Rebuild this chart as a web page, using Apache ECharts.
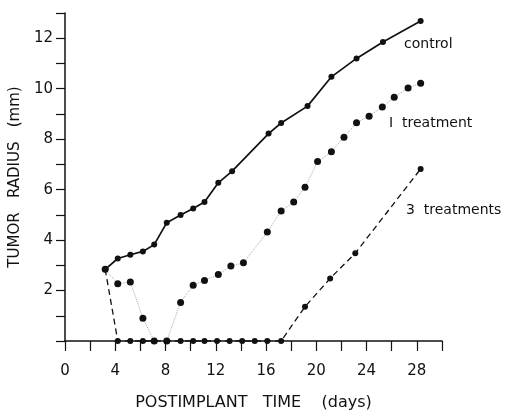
<!DOCTYPE html>
<html><head><meta charset="utf-8">
<script src="https://cdn.jsdelivr.net/npm/echarts@6/dist/echarts.min.js"></script>
<style>html,body{margin:0;padding:0;background:#fff}#c{width:516px;height:416px}</style>
</head><body><div id="c"></div>
<script>
var controlDays = [3.2,4.2,5.2,6.2,7.1,8.1,9.2,10.2,11.1,12.2,13.3,16.2,17.2,19.3,21.2,23.2,25.3,28.3];
var controlRadius = [2.84,3.27,3.42,3.55,3.82,4.69,4.99,5.25,5.51,6.27,6.73,8.22,8.64,9.31,10.47,11.2,11.85,12.68];
var oneDays = [3.2,4.2,5.2,6.2,7.1,8.1,9.2,10.2,11.1,12.2,13.2,14.2,16.1,17.2,18.2,19.1,20.1,21.2,22.2,23.2,24.2,25.25,26.2,27.3,28.3];
var oneRadius = [2.84,2.27,2.34,0.9,0,0,1.53,2.21,2.4,2.64,2.97,3.1,4.32,5.15,5.51,6.09,7.11,7.5,8.08,8.65,8.91,9.27,9.66,10.03,10.22];
var threeDays = [3.2,4.2,5.2,6.2,7.1,8.1,9.2,10.2,11.1,12.1,13.1,14.1,15.1,16.1,17.2,19.1,21.1,23.1,28.3];
var threeRadius = [2.84,0,0,0,0,0,0,0,0,0,0,0,0,0,0,1.36,2.48,3.48,6.82];
var seriesNames = ['control','I treatment','3 treatments'];
var xTickLabels = [0,4,8,12,16,20,24,28];
var yTickLabels = [2,4,6,8,10,12];

function pairs(xs, ys){ return xs.map(function(x,i){ return [x, ys[i]]; }); }
var FONT = 'DejaVu Sans';
var chart = echarts.init(document.getElementById('c'), null, {renderer:'canvas'});
chart.setOption({
  animation:false,
  backgroundColor:'#fff',
  grid:{left:61,right:74,top:13,bottom:72},
  xAxis:{type:'value',min:0,max:30,interval:2,
    name:'POSTIMPLANT   TIME    (days)',nameLocation:'middle',nameGap:54,
    nameTextStyle:{fontFamily:FONT,fontSize:16,color:'#111'},
    axisLine:{show:true,lineStyle:{color:'#111',width:1.5}},
    axisTick:{show:true,inside:false,length:10,lineStyle:{color:'#111',width:1.2}},
    axisLabel:{margin:23,fontFamily:FONT,fontSize:15,color:'#111',
      formatter:function(v){ return xTickLabels.indexOf(v)>=0 ? String(v) : ''; }},
    splitLine:{show:false}},
  yAxis:{type:'value',min:0,max:13,interval:1,
    name:'TUMOR   RADIUS   (mm)',nameLocation:'middle',nameGap:37,
    nameTextStyle:{fontFamily:FONT,fontSize:15,color:'#111'},
    axisLine:{show:true,lineStyle:{color:'#111',width:1.5}},
    axisTick:{show:true,length:9,lineStyle:{color:'#111',width:1.2}},
    axisLabel:{margin:12,fontFamily:FONT,fontSize:15,color:'#111',
      formatter:function(v){ return yTickLabels.indexOf(v)>=0 ? String(v) : ''; }},
    splitLine:{show:false}},
  series:[
    {name:seriesNames[0],type:'line',data:pairs(controlDays,controlRadius),
     symbol:'circle',symbolSize:6,itemStyle:{color:'#111'},
     lineStyle:{color:'#111',width:1.7,type:'solid'},z:3},
    {name:seriesNames[1],type:'line',data:pairs(oneDays,oneRadius),
     symbol:'circle',symbolSize:7,itemStyle:{color:'#111'},
     lineStyle:{color:'#aaa',width:1,type:'dotted'},z:2},
    {name:seriesNames[2],type:'line',data:pairs(threeDays,threeRadius),
     symbol:'circle',symbolSize:6,itemStyle:{color:'#111'},
     lineStyle:{color:'#111',width:1.3,type:[6,4]},z:2}
  ],
  graphic:[
    {type:'text',left:404,top:37,style:{text:seriesNames[0],font:'14px '+FONT,fill:'#111'}},
    {type:'text',left:389,top:116,style:{text:'I  treatment',font:'14px '+FONT,fill:'#111'}},
    {type:'text',left:406,top:203,style:{text:'3  treatments',font:'14px '+FONT,fill:'#111'}}
  ]
});
</script></body></html>
